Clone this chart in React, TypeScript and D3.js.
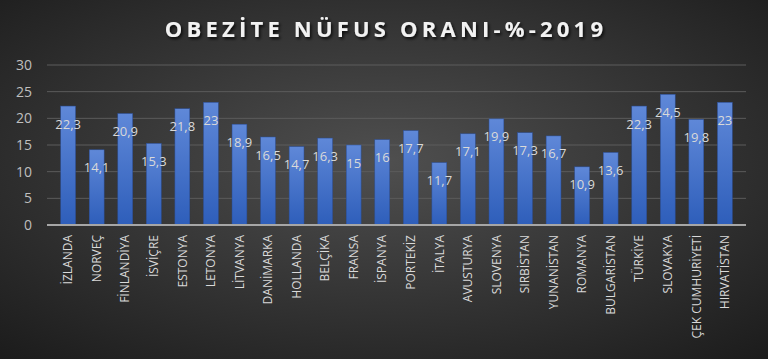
import React, { useRef, useEffect } from "react";
import * as d3 from "d3";

const countries = [
  "İZLANDA", "NORVEÇ", "FİNLANDİYA", "İSVİÇRE", "ESTONYA", "LETONYA",
  "LİTVANYA", "DANİMARKA", "HOLLANDA", "BELÇİKA", "FRANSA", "İSPANYA",
  "PORTEKİZ", "İTALYA", "AVUSTURYA", "SLOVENYA", "SIRBİSTAN", "YUNANİSTAN",
  "ROMANYA", "BULGARİSTAN", "TÜRKİYE", "SLOVAKYA", "ÇEK CUMHURİYETİ", "HIRVATİSTAN",
];
const obesity = [
  22.3, 14.1, 20.9, 15.3, 21.8, 23, 18.9, 16.5, 14.7, 16.3, 15, 16,
  17.7, 11.7, 17.1, 19.9, 17.3, 16.7, 10.9, 13.6, 22.3, 24.5, 19.8, 23,
];
const yTicks = [0, 5, 10, 15, 20, 25, 30];
const title = "OBEZİTE NÜFUS ORANI-%-2019";

const W = 768;
const H = 359;

const App = () => {
  const svgRef = useRef<SVGSVGElement>(null);

  useEffect(() => {
    const svg = d3.select(svgRef.current);
    svg.selectAll("*").remove();
    const margin = { top: 65, right: 22, bottom: 134, left: 47 };

    const defs = svg.append("defs");
    const bg = defs.append("radialGradient").attr("id", "bg")
      .attr("cx", "50%").attr("cy", "45%").attr("r", "75%");
    bg.append("stop").attr("offset", "0%").attr("stop-color", "#4f4f4f");
    bg.append("stop").attr("offset", "100%").attr("stop-color", "#1b1b1b");

    const barGrad = defs.append("linearGradient").attr("id", "bar")
      .attr("x1", 0).attr("y1", 0).attr("x2", 0).attr("y2", 1);
    barGrad.append("stop").attr("offset", "0%").attr("stop-color", "#5f88d8");
    barGrad.append("stop").attr("offset", "100%").attr("stop-color", "#2e5eba");

    const shadow = defs.append("filter").attr("id", "shadow")
      .attr("x", "-10%").attr("y", "-30%").attr("width", "120%").attr("height", "160%");
    shadow.append("feDropShadow").attr("dx", 1.5).attr("dy", 2)
      .attr("stdDeviation", 1.5).attr("flood-color", "#000").attr("flood-opacity", 0.8);

    svg.append("rect").attr("width", W).attr("height", H).attr("fill", "url(#bg)");

    // title
    svg.append("text")
      .attr("x", W / 2 + 2).attr("y", 37)
      .attr("text-anchor", "middle")
      .attr("font-family", "'Open Sans', sans-serif")
      .attr("font-weight", 700)
      .attr("font-size", 22)
      .attr("letter-spacing", 4.2)
      .attr("fill", "#f2f2f2")
      .attr("filter", "url(#shadow)")
      .text(title);

    const x = d3.scaleBand()
      .domain(countries)
      .range([margin.left, W - margin.right])
      .padding(0.48);

    const y = d3.scaleLinear()
      .domain([0, 30])
      .range([H - margin.bottom, margin.top]);

    // gridlines
    svg.append("g")
      .selectAll("line")
      .data(yTicks.slice(1))
      .join("line")
      .attr("x1", margin.left).attr("x2", W - margin.right)
      .attr("y1", (d) => y(d)).attr("y2", (d) => y(d))
      .attr("stroke", "#5c5c5c").attr("stroke-width", 1);

    // y tick labels
    svg.append("g")
      .selectAll("text")
      .data(yTicks)
      .join("text")
      .attr("x", 32).attr("y", (d) => y(d))
      .attr("dy", "0.35em")
      .attr("text-anchor", "end")
      .attr("font-family", "'Open Sans', sans-serif")
      .attr("font-size", 14)
      .attr("fill", "#bfbfbf")
      .text((d) => d);

    // bars
    svg.append("g")
      .selectAll("rect")
      .data(obesity)
      .join("rect")
      .attr("x", (d, i) => x(countries[i]))
      .attr("y", (d) => y(d))
      .attr("width", x.bandwidth())
      .attr("height", (d) => y(0) - y(d))
      .attr("fill", "url(#bar)")
      .attr("stroke", "#2a4f9a").attr("stroke-width", 0.5);

    // baseline
    svg.append("line")
      .attr("x1", margin.left).attr("x2", W - margin.right)
      .attr("y1", y(0)).attr("y2", y(0))
      .attr("stroke", "#a6a6a6").attr("stroke-width", 2);

    // value labels
    svg.append("g")
      .selectAll("text")
      .data(obesity)
      .join("text")
      .attr("x", (d, i) => x(countries[i]) + x.bandwidth() / 2)
      .attr("y", (d) => y(d) + 18)
      .attr("dy", "0.35em")
      .attr("text-anchor", "middle")
      .attr("font-family", "'Open Sans', sans-serif")
      .attr("font-size", 13)
      .attr("fill", "#d9d9d9")
      .text((d) => String(d).replace(".", ","));

    // category labels
    svg.append("g")
      .selectAll("text")
      .data(countries)
      .join("text")
      .attr("transform", (d) => `translate(${x(d) + x.bandwidth() / 2},${y(0) + 10}) rotate(-90)`)
      .attr("dy", "0.35em")
      .attr("text-anchor", "end")
      .attr("font-family", "'Liberation Sans Narrow', 'Open Sans', sans-serif")
      .attr("font-size", 12)
      .attr("fill", "#d9d9d9")
      .text((d) => d);
  }, []);

  return (
    <svg ref={svgRef} width={W} height={H} style={{ display: "block", position: "absolute", left: 0, top: 0 }} />
  );
};

export default App;
